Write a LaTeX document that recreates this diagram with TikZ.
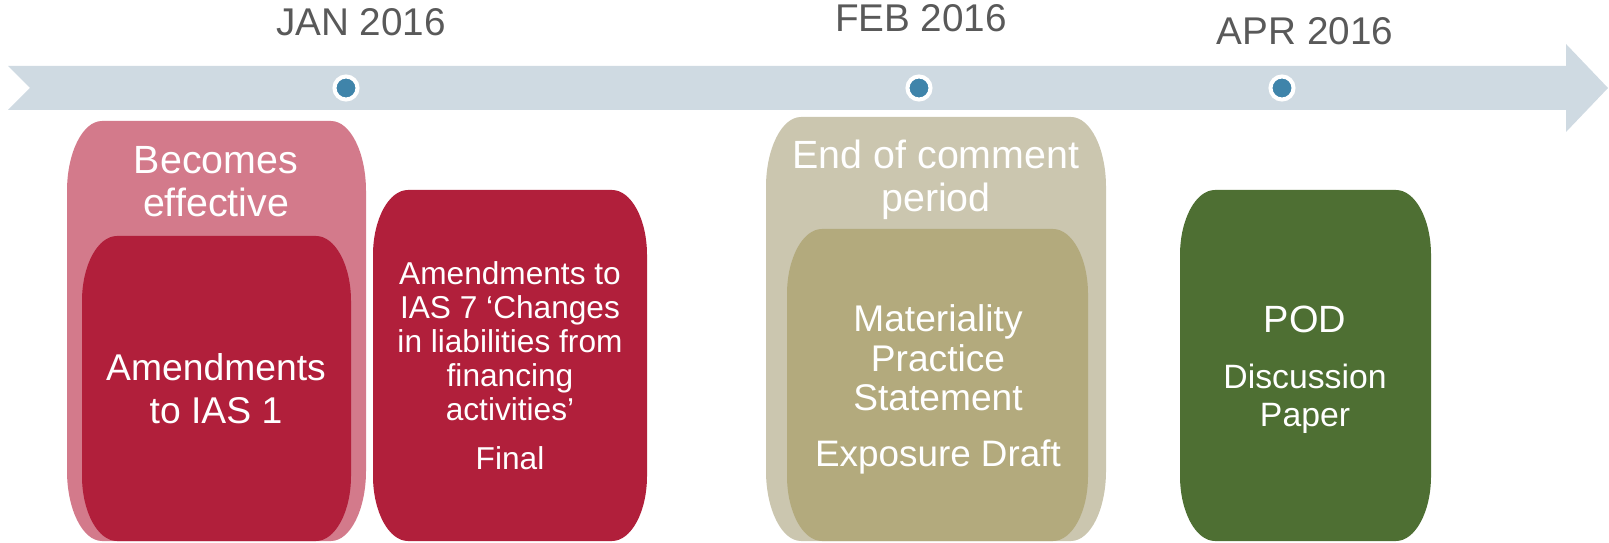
\documentclass[tikz,border=0pt]{standalone}
\usepackage{fontspec}
\setmainfont{Liberation Sans}
\definecolor{band}{HTML}{CFDAE2}
\definecolor{dotblue}{HTML}{3F84AA}
\definecolor{datetext}{HTML}{595959}
\definecolor{pinkbox}{HTML}{D37A8B}
\definecolor{redbox}{HTML}{B11F3B}
\definecolor{beigebox}{HTML}{CBC6AF}
\definecolor{khakibox}{HTML}{B3AA7D}
\definecolor{greenbox}{HTML}{4E6F33}
% x1 y1 x2 y2 rx ry colour
\newcommand\rrbox[7]{%
\fill[#7] (#1,{#2+#6}) .. controls (#1,{#2+0.45*#6}) and ({#1+0.45*#5},#2) .. ({#1+#5},#2)
 -- ({#3-#5},#2) .. controls ({#3-0.45*#5},#2) and (#3,{#2+0.45*#6}) .. (#3,{#2+#6})
 -- (#3,{#4-#6}) .. controls (#3,{#4-0.45*#6}) and ({#3-0.45*#5},#4) .. ({#3-#5},#4)
 -- ({#1+#5},#4) .. controls ({#1+0.45*#5},#4) and (#1,{#4-0.45*#6}) .. (#1,{#4-#6}) -- cycle;}
\begin{document}
\begin{tikzpicture}[x=0.025cm,y=-0.025cm,
  datelbl/.style={text=datetext,inner sep=0pt,font=\fontsize{27.5}{33}\selectfont},
  dotmark/.style={circle,fill=dotblue,draw=white,line width=2.85pt,minimum size=16.4pt,inner sep=0pt},
  boxtext/.style={text=white,inner sep=0pt,align=center}]
\useasboundingbox (0,0) rectangle (1609,543);
% timeline band
\fill[band] (8,66) -- (1566,66) -- (1566,44) -- (1608,88) -- (1566,132) -- (1566,110) -- (8,110) -- (30,88) -- cycle;
% dots
\node[dotmark] (d1) at (346,88) {};
\node[dotmark] (d2) at (919,88) {};
\node[dotmark] (d3) at (1282,88) {};
% date labels
\node[datelbl] (jan) at (361,22) {JAN 2016};
\node[datelbl] (feb) at (921,18) {FEB 2016};
\node[datelbl] (apr) at (1305,31) {APR 2016};
% boxes
\rrbox{67}{121}{366}{541}{35}{70}{pinkbox}
\rrbox{82}{236}{351}{541}{35}{65}{redbox}
\rrbox{373}{190}{647}{541}{35}{65}{redbox}
\rrbox{766}{117}{1106}{541}{35}{70}{beigebox}
\rrbox{787}{229}{1088}{541}{35}{65}{khakibox}
\rrbox{1180}{190}{1431}{541}{35}{65}{greenbox}
% texts
\node[boxtext,font=\fontsize{28}{30.6}\selectfont] (be) at (216,182) {Becomes\\effective};
\node[boxtext,font=\fontsize{26.5}{30.6}\selectfont] (a1) at (216,389) {Amendments\\to IAS 1};
\node[boxtext,font=\fontsize{22.5}{24.2}\selectfont] (a7) at (510,341) {Amendments to\\IAS 7 ‘Changes\\in liabilities from\\financing\\activities’};
\node[boxtext,font=\fontsize{22.5}{24.2}\selectfont] (fin) at (510,458) {Final};
\node[boxtext,font=\fontsize{28}{30.6}\selectfont] (ec) at (936,180) {End of comment\\period};
\node[boxtext,font=\fontsize{26.4}{28}\selectfont] (mp) at (938,358) {Materiality\\Practice\\Statement};
\node[boxtext,font=\fontsize{26.2}{28}\selectfont] (ed) at (938,457) {Exposure Draft};
\node[boxtext,font=\fontsize{27}{30}\selectfont] (pod) at (1305,319) {POD};
\node[boxtext,font=\fontsize{24}{27}\selectfont] (dp) at (1305,399) {Discussion\\Paper};
\end{tikzpicture}
\end{document}
